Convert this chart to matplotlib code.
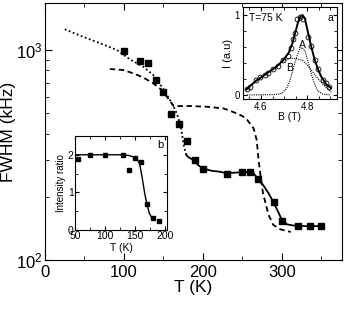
import numpy as np
import matplotlib
matplotlib.use("Agg")
import matplotlib.pyplot as plt
from matplotlib.ticker import MultipleLocator, LogLocator, FixedLocator, NullFormatter

plt.rcParams['font.family'] = ['Liberation Sans', 'DejaVu Sans']
plt.rcParams['mathtext.default'] = 'regular'

# main panel: FWHM vs T
T_pts = [100, 120, 130, 140, 150, 160, 170, 180, 190, 200, 230, 250, 260, 270, 290, 300, 320, 335, 350]
fwhm = [990, 890, 864, 719, 632, 495, 442, 370, 299, 270, 258, 263, 263, 242, 189, 153, 145, 145, 145]

T_dot = [25, 48, 70, 91, 108, 124, 137, 148, 158, 165, 169, 172, 174, 176, 179]
v_dot = [1256, 1157, 1076, 1000, 900, 835, 761, 668, 580, 518, 473, 431, 386, 347, 316]

T_sol = [179, 181, 188, 194, 200, 211, 222, 230, 243, 255, 264, 270, 276, 283, 289, 295, 299, 306, 314, 330, 350]
v_sol = [316, 310, 299, 283, 273, 266, 263, 259, 261, 262, 259, 242, 228, 208, 189, 170, 158, 148, 146, 145, 145]

T_dash = [82, 99, 112, 124, 137, 148, 155, 160, 163, 171, 184, 205, 226, 243, 251, 256, 264, 268, 270, 273, 276, 283, 289, 298, 311]
v_dash = [812, 803, 774, 741, 694, 645, 595, 560, 540, 541, 541, 537, 527, 499, 482, 465, 424, 373, 310, 249, 208, 164, 147, 140, 136]

# inset a: spectrum at 75 K
B_exp = [4.540, 4.551, 4.580, 4.594, 4.616, 4.630, 4.652, 4.673, 4.695, 4.717, 4.731, 4.738,
         4.746, 4.757, 4.770, 4.781, 4.803, 4.817, 4.832, 4.846, 4.868, 4.882, 4.894]
I_exp = [0.076, 0.105, 0.19, 0.23, 0.25, 0.27, 0.32, 0.36, 0.44, 0.485, 0.59, 0.70,
         0.78, 0.95, 0.98, 0.95, 0.72, 0.61, 0.44, 0.32, 0.19, 0.15, 0.105]

B_fit = [4.537, 4.56, 4.58, 4.60, 4.62, 4.64, 4.66, 4.68, 4.70, 4.72, 4.735, 4.75, 4.76, 4.77,
         4.78, 4.79, 4.80, 4.815, 4.83, 4.845, 4.86, 4.88, 4.90]
I_fit = [0.07, 0.13, 0.18, 0.22, 0.26, 0.30, 0.34, 0.39, 0.45, 0.53, 0.64, 0.80, 0.91, 0.98,
         1.0, 0.95, 0.82, 0.63, 0.46, 0.33, 0.23, 0.14, 0.09]

B_A = [4.54, 4.66, 4.69, 4.71, 4.724, 4.735, 4.746, 4.757, 4.767, 4.778, 4.79, 4.803, 4.815,
       4.825, 4.835, 4.846, 4.868, 4.90]
I_A = [0.0, 0.005, 0.02, 0.08, 0.17, 0.28, 0.40, 0.50, 0.57, 0.595, 0.55, 0.42, 0.29,
       0.19, 0.11, 0.05, 0.01, 0.0]

B_B = [4.537, 4.56, 4.58, 4.60, 4.62, 4.64, 4.666, 4.695, 4.724, 4.753, 4.781, 4.81, 4.839, 4.868, 4.904]
I_B = [0.07, 0.13, 0.18, 0.22, 0.26, 0.30, 0.34, 0.42, 0.46, 0.455, 0.43, 0.34, 0.23, 0.13, 0.035]

# inset b: intensity ratio
T_ratio = [55, 75, 100, 130, 140, 150, 160, 170, 180, 190]
ratio = [1.9, 2.0, 2.0, 2.0, 1.6, 1.92, 1.8, 0.68, 0.33, 0.25]
T_rfit = [50, 75, 100, 130, 140, 148, 154, 158, 162, 166, 170, 174, 178, 182]
r_fit = [2.0, 2.0, 2.0, 2.0, 1.98, 1.94, 1.88, 1.75, 1.40, 1.00, 0.68, 0.45, 0.32, 0.27]

fig = plt.figure(figsize=(3.54, 3.11), dpi=100)

ax = fig.add_axes([0.1271, 0.164, 0.839, 0.8264])
ax.plot(T_dot, v_dot, color='k', lw=1.3, linestyle=(0, (1, 1.4)))
ax.plot(T_sol, v_sol, color='k', lw=1.3)
ax.plot(T_dash, v_dash, color='k', lw=1.3, linestyle=(0, (3, 2)))
ax.plot(T_pts, fwhm, 's', color='k', ms=4.2, ls='none')
ax.set_yscale('log')
ax.set_xlim(0, 376)
ax.set_ylim(100, 1675)
ax.xaxis.set_major_locator(MultipleLocator(100))
ax.xaxis.set_minor_locator(MultipleLocator(50))
ax.yaxis.set_major_locator(FixedLocator([100, 1000]))
ax.yaxis.set_minor_locator(LogLocator(base=10, subs=np.arange(2, 10)))
ax.yaxis.set_minor_formatter(NullFormatter())
ax.set_yticklabels([r'$10^{2}$', r'$10^{3}$'])
ax.tick_params(which='both', direction='in', top=True, right=True, labelsize=12)
ax.tick_params(axis='y', pad=2)
ax.tick_params(which='major', length=5)
ax.tick_params(which='minor', length=3)
ax.set_xlabel('T (K)', fontsize=12.5, labelpad=0)
ax.set_ylabel('FWHM (kHz)', fontsize=12.5)
ax.yaxis.set_label_coords(-0.097, 0.5)

# inset a
axa = fig.add_axes([0.6856, 0.6817, 0.2655, 0.2958])
axa.plot(B_A, I_A, color='k', lw=0.8, linestyle=(0, (1, 1)))
axa.plot(B_B, I_B, color='k', lw=0.8, linestyle=(0, (1, 1)))
axa.plot(B_fit, I_fit, color='k', lw=1.4)
axa.plot(B_exp, I_exp, 'o', mfc='none', mec='k', ms=3.5, mew=0.6)
axa.set_xlim(4.521, 4.927)
axa.set_ylim(-0.05, 1.1)
axa.xaxis.set_major_locator(MultipleLocator(0.2))
axa.xaxis.set_minor_locator(MultipleLocator(0.05))
axa.yaxis.set_major_locator(MultipleLocator(1))
axa.yaxis.set_minor_locator(MultipleLocator(0.2))
axa.tick_params(which='both', direction='in', top=True, right=True, labelsize=7, pad=2)
axa.tick_params(which='major', length=3)
axa.tick_params(which='minor', length=2)
axa.set_xlabel('B (T)', fontsize=7.5, labelpad=0)
axa.set_ylabel('I (a.u)', fontsize=8, labelpad=1)
axa.text(4.55, 0.96, 'T=75 K', fontsize=7.5, va='center')
axa.text(4.781, 0.63, 'A', fontsize=7.5, ha='center', va='center')
axa.text(4.724, 0.34, 'B', fontsize=7.5, ha='center', va='center')
axa.text(4.90, 0.96, 'a', fontsize=7.5, ha='center', va='center')

# inset b
axb = fig.add_axes([0.2119, 0.2605, 0.2607, 0.3023])
axb.plot(T_rfit, r_fit, color='k', lw=1.0)
axb.plot(T_ratio, ratio, 's', color='k', ms=3.5)
axb.set_xlim(50, 204)
axb.set_ylim(0, 2.5)
axb.xaxis.set_major_locator(MultipleLocator(50))
axb.xaxis.set_minor_locator(MultipleLocator(25))
axb.yaxis.set_major_locator(MultipleLocator(1))
axb.yaxis.set_minor_locator(MultipleLocator(0.5))
axb.tick_params(which='both', direction='in', top=True, right=True, labelsize=7.5, pad=1)
axb.tick_params(which='major', length=3)
axb.tick_params(which='minor', length=2)
axb.set_xlabel('T (K)', fontsize=7.5, labelpad=1)
axb.set_ylabel('Intensity ratio', fontsize=7, labelpad=1)
axb.text(192, 2.27, 'b', fontsize=8, ha='center', va='center')

fig.savefig('out.png', dpi=100)
